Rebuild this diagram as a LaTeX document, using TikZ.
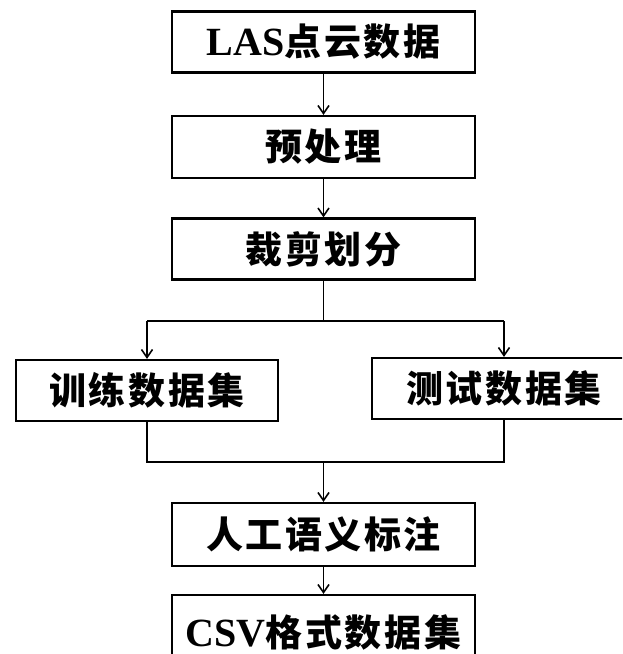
\documentclass[tikz,border=0pt]{standalone}
\usepackage{fontspec}
\setmainfont{Liberation Serif}
\newfontfamily\cjk{Noto Sans CJK SC}[LetterSpace=7]
\usetikzlibrary{arrows.meta}
\tikzset{
  box/.style={draw, line width=2.2pt, minimum width=303pt, minimum height=61pt, inner sep=0pt, font=\fontsize{40}{44}\selectfont\bfseries},
  conn/.style={line width=1.6pt},
  arr/.style={conn, -{Straight Barb[length=8pt,width=11pt]}}
}
\newcommand{\zh}[1]{{\cjk\fontsize{37}{42}\selectfont\bfseries #1}}
\begin{document}
\begin{tikzpicture}[x=1pt,y=-1pt]
\useasboundingbox (0,0) rectangle (622,654);
\clip (0,0) rectangle (622,654);
\node[box] (b1) at (323.5,42) {LAS\zh{点云数据}};
\node[box, minimum height=62pt] (b2) at (323.5,147) {\zh{预处理}};
\node[box] (b3) at (323.5,249) {\zh{裁剪划分}};
\node[box, minimum width=262pt] (b4) at (147,390.5) {\zh{训练数据集}};
\node[box, minimum width=264pt] (b5) at (504,388.5) {\zh{测试数据集}};
\node[box, minimum height=63pt] (b6) at (323.5,534.5) {\zh{人工语义标注}};
\node[box, minimum height=74pt] (b7) at (323.5,632) {CSV\zh{格式数据集}};
\coordinate (split) at (326,321);
\coordinate (join) at (325,462);
\draw[arr] (b1) -- (b2);
\draw[arr] (b2) -- (b3);
\draw[conn] (b3.south) -- (b3.south |- split);
\draw[conn] (b4.north |- split) -- (b5.north |- split);
\draw[arr] (b4.north |- split) -- (b4.north);
\draw[arr] (b5.north |- split) -- (b5.north);
\draw[conn] (b4.south) -- (b4.south |- join) -- (b5.south |- join) -- (b5.south);
\draw[arr] (b6.north |- join) -- (b6.north);
\draw[arr] (b6) -- (b7);
\end{tikzpicture}
\end{document}
